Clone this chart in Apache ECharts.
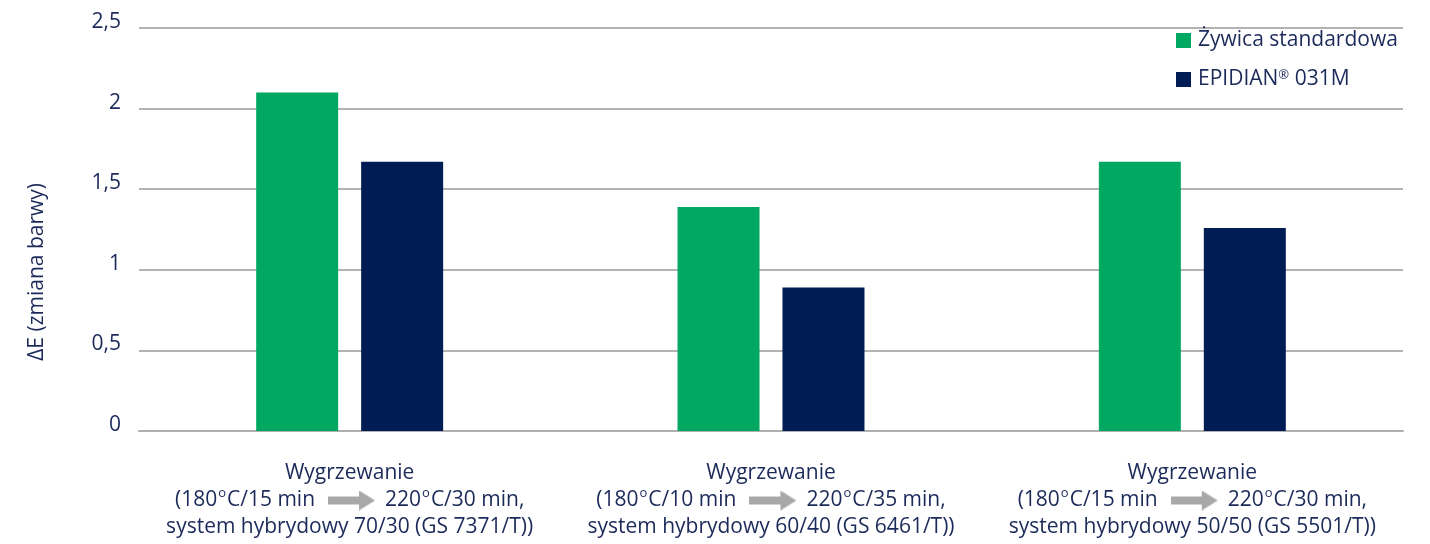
<!DOCTYPE html>
<html><head><meta charset="utf-8">
<script src="https://cdn.jsdelivr.net/npm/echarts@6/dist/echarts.min.js"></script>
<style>html,body{margin:0;padding:0;background:#fff}#c{width:1430px;height:544px}</style>
</head><body><div id="c"></div>
<script>
const categories = [
  ['Wygrzewanie', '(180°C/15 min', '220°C/30 min,', 'system hybrydowy 70/30 (GS 7371/T))'],
  ['Wygrzewanie', '(180°C/10 min', '220°C/35 min,', 'system hybrydowy 60/40 (GS 6461/T))'],
  ['Wygrzewanie', '(180°C/15 min', '220°C/30 min,', 'system hybrydowy 50/50 (GS 5501/T))']
];
const seriesNames = ['Żywica standardowa', 'EPIDIAN® 031M'];
const standardValues = [2.1, 1.39, 1.67];
const epidianValues = [1.67, 0.89, 1.26];
const yTicks = [0, 0.5, 1, 1.5, 2, 2.5];

const TEXT = '#1c2a5a';
const FONT = '"Open Sans", "Noto Sans", sans-serif';
const FS = 21;

// arrow image
const cv = document.createElement('canvas');
cv.width = 94; cv.height = 40;
const cx = cv.getContext('2d');
cx.fillStyle = '#a8a8a8';
cx.beginPath();
cx.moveTo(0, 12); cx.lineTo(62, 12); cx.lineTo(62, 0); cx.lineTo(94, 20);
cx.lineTo(62, 40); cx.lineTo(62, 28); cx.lineTo(0, 28); cx.closePath(); cx.fill();
const arrowURL = cv.toDataURL();

function catLabel(lines){
  const l2a = lines[1].split('°');
  const l2b = lines[2].split('°');
  return '{t|' + lines[0] + '}\n' +
    '{t|' + l2a[0] + '}{sup|o}{t|' + l2a[1] + '}{sp|}{arrow|}{sp2|}{t|' + l2b[0] + '}{sup|o}{t|' + l2b[1] + '}\n' +
    '{t|' + lines[3] + '}';
}

const chart = echarts.init(document.getElementById('c'));
chart.setOption({
  animation: false,
  textStyle: { fontFamily: FONT },
  grid: { left: 139, right: 27, top: 28, bottom: 113 },
  legend: {
    orient: 'vertical', left: 1171, top: 25,
    itemWidth: 15, itemHeight: 15, itemGap: 18,
    icon: 'rect',
    formatter: n => n.indexOf('®') >= 0 ? n.replace('®', '{r|®}') : n,
    textStyle: { color: TEXT, fontSize: FS, lineHeight: 21, fontFamily: FONT, padding: [0,0,0,2],
      rich: { r: { fontSize: 13, color: TEXT, fontFamily: FONT, verticalAlign: 'top', lineHeight: 21, padding: [0,0,6,0] } } },
    data: seriesNames
  },
  xAxis: {
    type: 'category',
    data: categories.map(catLabel),
    axisTick: { show: false },
    axisLine: { lineStyle: { color: '#b0b0b0', width: 2 } },
    axisLabel: {
      margin: 29, interval: 0,
      rich: {
        t: { fontSize: FS, color: TEXT, fontFamily: FONT, lineHeight: 27 },
        sup: { fontSize: 13, color: TEXT, fontFamily: FONT, verticalAlign: 'top', lineHeight: 27, padding: [0,1,10,1] },
        sp: { width: 13, height: 10 },
        sp2: { width: 10, height: 10 },
        arrow: { width: 47, height: 20, backgroundColor: { image: arrowURL } }
      }
    }
  },
  yAxis: {
    type: 'value', min: 0, max: 2.5, interval: 0.5,
    axisLine: { show: false }, axisTick: { show: false },
    splitLine: { lineStyle: { color: '#b3b3b3', width: 2 } },
    axisLabel: {
      margin: 18, fontSize: FS, color: TEXT, fontFamily: FONT,
      verticalAlign: 'bottom', lineHeight: 12,
      formatter: v => String(v).replace('.', ',')
    }
  },
  graphic: [{
    type: 'text', left: 27, top: 183, rotation: Math.PI/2,
    style: { text: 'ΔE (zmiana barwy)', fontSize: FS, fill: TEXT, fontFamily: FONT }
  }],
  series: [
    { name: seriesNames[0], type: 'bar', data: standardValues, barWidth: 82, barGap: '28%',
      itemStyle: { color: '#00a862' } },
    { name: seriesNames[1], type: 'bar', data: epidianValues, barWidth: 82,
      itemStyle: { color: '#001c55' } }
  ]
});
</script></body></html>
